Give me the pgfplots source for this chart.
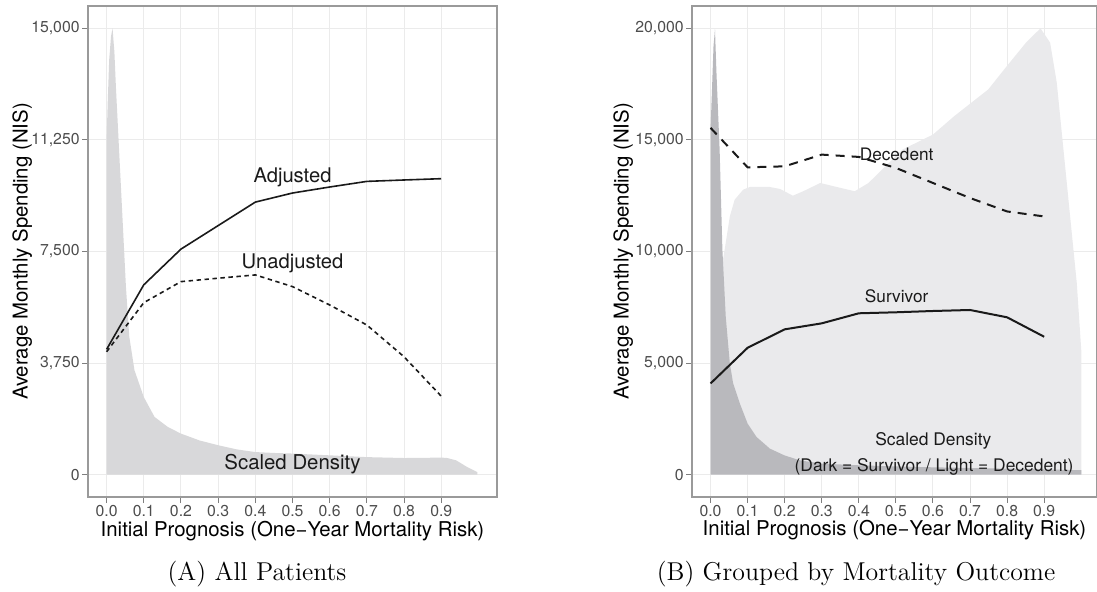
\documentclass[border=0pt]{standalone}
\usepackage{pgfplots}
\pgfplotsset{compat=1.18}
\usepackage{fontspec}
\newfontfamily\hel{TeX Gyre Heros}
\newcommand\tl[1]{\mbox{\hel\fontsize{7.9}{9}\selectfont #1}}
\definecolor{gridc}{HTML}{EBEBEB}
\definecolor{framec}{HTML}{9A9A9A}
\definecolor{tickc}{HTML}{7F7F7F}
\definecolor{labc}{HTML}{4D4D4D}
\definecolor{dens}{HTML}{D8D8DA}
\definecolor{denslight}{HTML}{EAEAEC}
\definecolor{densdark}{HTML}{B9B9BD}
\definecolor{linec}{HTML}{1A1A1A}
\pgfplotsset{
  ggbase/.style={
    scale only axis, height=245.5pt, xmin=-0.05,
    axis line style={draw=framec, line width=0.6pt},
    grid=major, major grid style={draw=gridc, line width=0.5pt},
    tick align=outside, major tick length=3pt,
    xtick pos=bottom, ytick pos=left,
    tick style={draw=tickc, line width=0.5pt},
    scaled ticks=false,
    xtick={0,0.1,0.2,0.3,0.4,0.5,0.6,0.7,0.8,0.9},
    xticklabels={\tl{0.0},\tl{0.1},\tl{0.2},\tl{0.3},\tl{0.4},\tl{0.5},\tl{0.6},\tl{0.7},\tl{0.8},\tl{0.9}},
    ticklabel style={text=labc},
    xticklabel style={inner sep=0pt, yshift=-1pt},
    yticklabel style={inner sep=0pt, xshift=-1pt},
    xlabel={Initial Prognosis (One−Year Mortality Risk)},
    ylabel={Average Monthly Spending (NIS)},
    every axis x label/.style={at={(axis description cs:0.5,0)}, anchor=base, yshift=-19.5pt,
      font=\hel\fontsize{10.2}{12}\selectfont, text=black},
  }
}
\begin{document}
\begin{tikzpicture}
\useasboundingbox (0,0) rectangle (548.5pt,-296pt);
% ---------------- Panel A ----------------
\begin{axis}[ggbase, at={(44pt,-3pt)}, anchor=north west, width=204.5pt,
  xmax=1.05, ymin=-750, ymax=15750,
  ytick={0,3750,7500,11250,15000},
  yticklabels={\tl{0},\tl{3,750},\tl{7,500},\tl{11,250},\tl{15,000}},
  every axis y label/.style={at={(axis description cs:-0.161,0.5)}, rotate=90, anchor=center,
    font=\hel\fontsize{10.2}{12}\selectfont, text=black},
]
\addplot[fill=dens, draw=none] coordinates {
(0,11260) (0.003,12500) (0.007,13950) (0.012,14740) (0.016,15000) (0.021,14200)
(0.025,13050) (0.034,10810) (0.043,8570) (0.052,6320) (0.061,4640) (0.075,3510)
(0.1,2610) (0.129,1940) (0.165,1600) (0.2,1380) (0.25,1150) (0.3,990) (0.35,850)
(0.4,760) (0.45,730) (0.5,710) (0.6,650) (0.7,590) (0.8,560) (0.85,565) (0.9,575)
(0.916,560) (0.94,482) (0.97,256) (0.997,88)} \closedcycle;
\addplot[linec, line width=0.8pt] coordinates {
(0,4210) (0.1,6380) (0.2,7580) (0.3,8370) (0.4,9160) (0.5,9465) (0.6,9667)
(0.7,9856) (0.8,9903) (0.9,9947)};
\addplot[linec, line width=0.8pt, dash pattern=on 2.2pt off 1.8pt] coordinates {
(0,4130) (0.1,5780) (0.2,6488) (0.3,6602) (0.4,6713) (0.5,6320) (0.6,5703)
(0.7,5029) (0.8,3962) (0.9,2637)};
\node[font=\hel\fontsize{10.1}{12}\selectfont, text=linec, anchor=base] at (axis cs:0.5,9820) {Adjusted};
\node[font=\hel\fontsize{10.1}{12}\selectfont, text=linec, anchor=base] at (axis cs:0.5,6939) {Unadjusted};
\node[font=\hel\fontsize{10.2}{12}\selectfont, text=linec, anchor=base] at (axis cs:0.5,168) {Scaled Density};
\end{axis}
% ---------------- Panel B ----------------
\begin{axis}[ggbase, at={(346pt,-3pt)}, anchor=north west, width=202.5pt,
  xmax=1.0425, ymin=-1000, ymax=21000,
  ytick={0,5000,10000,15000,20000},
  yticklabels={\tl{0},\tl{5,000},\tl{10,000},\tl{15,000},\tl{20,000}},
  every axis y label/.style={at={(axis description cs:-0.170,0.5)}, rotate=90, anchor=center,
    font=\hel\fontsize{10.2}{12}\selectfont, text=black},
]
\addplot[fill=denslight, draw=none] coordinates {
(0,4800) (0.014,7080) (0.023,8580) (0.038,10075) (0.052,11570) (0.065,12320)
(0.088,12770) (0.106,12890) (0.16,12890) (0.188,12800) (0.222,12500) (0.25,12700)
(0.296,13070) (0.333,12920) (0.389,12700) (0.426,13070) (0.481,13970) (0.518,14570)
(0.6,15240) (0.657,16060) (0.703,16660) (0.749,17260) (0.796,18240) (0.851,19360)
(0.89,20000) (0.916,19360) (0.934,17560) (0.952,14570) (0.97,11570) (0.988,8580)
(1.0,5580)} \closedcycle;
\addplot[fill=densdark, draw=none] coordinates {
(0,15470) (0.004,17300) (0.008,19200) (0.012,19950) (0.016,18000) (0.0245,14570)
(0.032,10075) (0.041,7080) (0.052,4985) (0.061,4087) (0.079,3190) (0.1,2290)
(0.124,1690) (0.16,1168) (0.199,867) (0.241,642) (0.301,494) (0.402,419)
(0.5,370) (0.6,330) (0.7,300) (0.8,270) (0.9,240) (1.0,200)} \closedcycle;
\addplot[linec, line width=1pt, dash pattern=on 4.5pt off 3.5pt] coordinates {
(0,15540) (0.1,13771) (0.2,13816) (0.3,14341) (0.4,14238) (0.5,13744) (0.6,13070)
(0.7,12396) (0.8,11794) (0.9,11570)};
\addplot[linec, line width=1pt] coordinates {
(0,4087) (0.1,5686) (0.2,6512) (0.3,6781) (0.4,7231) (0.5,7276) (0.6,7334)
(0.7,7379) (0.8,7051) (0.9,6180)};
\node[font=\hel\fontsize{8.6}{10}\selectfont, text=linec, anchor=base] at (axis cs:0.502,14085) {Decedent};
\node[font=\hel\fontsize{8.6}{10}\selectfont, text=linec, anchor=base] at (axis cs:0.502,7707) {Survivor};
\node[font=\hel\fontsize{8.7}{10}\selectfont, text=linec, anchor=base] at (axis cs:0.601,1285) {Scaled Density};
\node[font=\hel\fontsize{8.7}{10}\selectfont, text=linec, anchor=base] at (axis cs:0.603,162) {(Dark = Survivor / Light = Decedent)};
\end{axis}
% captions
\node[anchor=base, font=\fontsize{12.9}{15}\selectfont] at (128.5pt,-290.5pt) {(A) All Patients};
\node[anchor=base, font=\fontsize{12.9}{15}\selectfont] at (428pt,-290.5pt) {(B) Grouped by Mortality Outcome};
\end{tikzpicture}
\end{document}
